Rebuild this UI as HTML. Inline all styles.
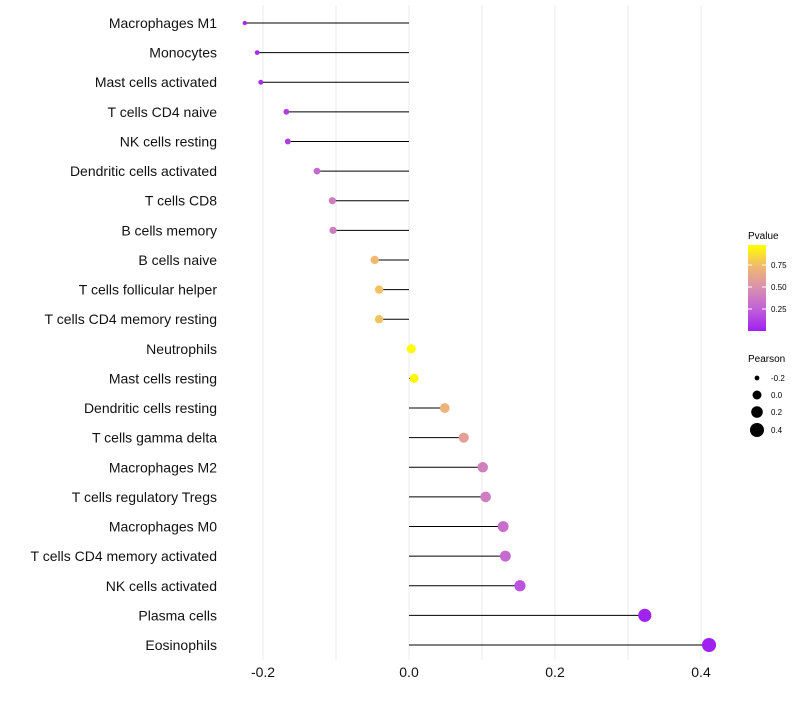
<!DOCTYPE html>
<html><head><meta charset="utf-8"><style>
body{margin:0;background:#fff;}
svg{font-family:"Liberation Sans",sans-serif;}
</style></head><body>
<svg id="chart" width="800" height="700">
<g id="grid"></g>
<g id="marks"></g>
<g id="ylabels"></g>
<g id="xlabels"></g>
<g>
<defs><linearGradient id="pg" x1="0" y1="1" x2="0" y2="0">
<stop offset="0" stop-color="#a020f0"/><stop offset="0.25" stop-color="#c060d8"/><stop offset="0.5" stop-color="#d890b0"/><stop offset="0.75" stop-color="#f0b870"/><stop offset="1" stop-color="#ffff00"/></linearGradient></defs>
<text x="748" y="239" font-size="10">Pvalue</text>
<rect x="748" y="245" width="18" height="86" fill="url(#pg)"/>
<line x1="748" x2="752" y1="265" y2="265" stroke="#fff"/><line x1="762" x2="766" y1="265" y2="265" stroke="#fff"/>
<line x1="748" x2="752" y1="287" y2="287" stroke="#fff"/><line x1="762" x2="766" y1="287" y2="287" stroke="#fff"/>
<line x1="748" x2="752" y1="309" y2="309" stroke="#fff"/><line x1="762" x2="766" y1="309" y2="309" stroke="#fff"/>
<text x="771" y="268" font-size="8">0.75</text>
<text x="771" y="290" font-size="8">0.50</text>
<text x="771" y="312" font-size="8">0.25</text>
</g>
<g>
<text x="748" y="362" font-size="10">Pearson</text>
<circle cx="757" cy="378" r="2.4"/><text x="771" y="381" font-size="8">-0.2</text>
<circle cx="757" cy="395" r="4.5"/><text x="771" y="398" font-size="8">0.0</text>
<circle cx="757" cy="412" r="5.8"/><text x="771" y="415" font-size="8">0.2</text>
<circle cx="757" cy="430" r="7"/><text x="771" y="433" font-size="8">0.4</text>
</g>
</svg>
<script>
const categories=["Macrophages M1","Monocytes","Mast cells activated","T cells CD4 naive","NK cells resting","Dendritic cells activated","T cells CD8","B cells memory","B cells naive","T cells follicular helper","T cells CD4 memory resting","Neutrophils","Mast cells resting","Dendritic cells resting","T cells gamma delta","Macrophages M2","T cells regulatory  Tregs ","Macrophages M0","T cells CD4 memory activated","NK cells activated","Plasma cells","Eosinophils"];
const pearson=[-0.225,-0.208,-0.203,-0.168,-0.166,-0.126,-0.105,-0.104,-0.047,-0.041,-0.041,0.003,0.007,0.049,0.075,0.101,0.105,0.129,0.132,0.152,0.323,0.411];
const pvalue=[0.02,0.05,0.05,0.12,0.12,0.3,0.4,0.4,0.75,0.78,0.78,0.99,0.97,0.72,0.6,0.42,0.4,0.32,0.3,0.2,0.01,0.0];
const xTicks=[-0.2,0.0,0.2,0.4];
const xTickLabels=["-0.2","0.0","0.2","0.4"];
const xMinor=[-0.1,0.1,0.3];
const NS="http://www.w3.org/2000/svg";
const x=v=>409+v*730;
const y=i=>23+i*(645-23)/(categories.length-1);
const stops=[[0,[160,32,240]],[0.25,[192,96,216]],[0.5,[216,144,176]],[0.75,[240,184,112]],[1,[255,255,0]]];
function col(p){for(let k=1;k<stops.length;k++){if(p<=stops[k][0]){const a=stops[k-1],b=stops[k],t=(p-a[0])/(b[0]-a[0]);const c=a[1].map((v,j)=>Math.round(v+(b[1][j]-v)*t));return `rgb(${c})`;}}return "rgb(255,255,0)";}
const rad=v=>Math.sqrt(Math.max(2.2,20.5+71*v));
function mk(tag,attrs,parent){const e=document.createElementNS(NS,tag);for(const k in attrs)e.setAttribute(k,attrs[k]);document.getElementById(parent).appendChild(e);return e;}
xTicks.concat(xMinor).forEach(v=>{
const l=mk("line",{x1:x(v),x2:x(v),y1:5,y2:660,stroke:"#ebebeb","stroke-width":1},"grid");


});
xTicks.forEach((v,i)=>{
const t=mk("text",{x:x(v),y:677,"font-size":14,"text-anchor":"middle",fill:"#111"},"xlabels");
t.textContent=xTickLabels[i];


});
categories.forEach((c,i)=>{
const t=mk("text",{x:217,y:y(i)+5,"font-size":14,"text-anchor":"end",fill:"#111","xml:space":"preserve"},"ylabels");
t.textContent=c;


const l=mk("line",{x1:x(0),x2:x(pearson[i]),y1:y(i),y2:y(i),stroke:"#000","stroke-width":1},"marks");


const p=mk("circle",{cx:x(pearson[i]),cy:y(i),r:rad(pearson[i]),fill:col(pvalue[i])},"marks");


});
</script>
</body></html>
